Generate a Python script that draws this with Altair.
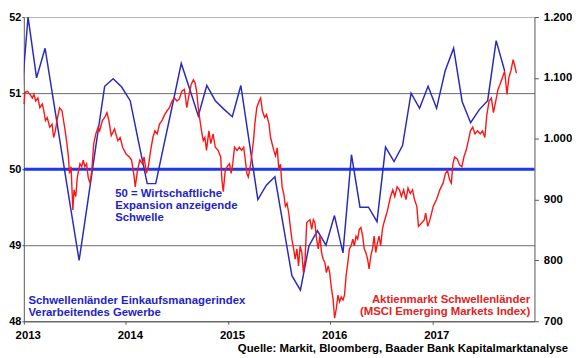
import altair as alt
import pandas as pd

FONT = "Liberation Sans"
BLUE_LINE = "#2a2ac0"
BLUE_RULE = "#2238ee"
BLUE_TEXT = "#2323c4"
RED_LINE = "#ff1414"
RED_TEXT = "#e32222"

# EM manufacturing PMI, monthly (first point Dec 2012, plotted mid-month)
pmi_first_month = "2012-12"
pmi_values = [
    50.65,
    52.00, 51.20, 51.59, 50.89, 50.19, 49.49, 48.80, 49.56, 50.33, 51.09, 51.19, 51.08,
    50.90, 50.35, 49.81, 49.81, 50.34, 50.86, 51.39, 51.05, 50.70, 51.10, 50.90, 50.79,
    50.69, 51.10, 50.35, 49.60, 49.79, 49.90, 49.25, 48.60, 48.41, 48.99, 49.19, 49.00,
    49.39, 48.90, 50.19, 49.50, 49.50, 49.31, 50.29, 50.10, 50.31, 51.00, 50.80, 51.09,
    50.80, 51.29, 51.59, 50.89, 50.61, 50.78, 50.90, 51.69, 51.29,
]

# MSCI Emerging Markets index: time in years since 1 Jan 2013, and level
msci_years_since_2013 = [
    0.003, 0.010, 0.036, 0.061, 0.084, 0.099, 0.116, 0.138, 0.157, 0.181,
    0.196, 0.212, 0.229, 0.254, 0.277, 0.292, 0.309, 0.325, 0.350, 0.374,
    0.389, 0.405, 0.422, 0.437, 0.447, 0.463, 0.480, 0.492, 0.509, 0.524,
    0.550, 0.567, 0.582, 0.598, 0.615, 0.630, 0.647, 0.663, 0.685, 0.705,
    0.727, 0.743, 0.769, 0.792, 0.814, 0.833, 0.856, 0.888, 0.920, 0.943,
    0.968, 1.001, 1.033, 1.055, 1.081, 1.091, 1.113, 1.136, 1.161, 1.178,
    1.200, 1.219, 1.242, 1.264, 1.284, 1.306, 1.329, 1.354, 1.380, 1.403,
    1.426, 1.451, 1.477, 1.499, 1.522, 1.547, 1.573, 1.596, 1.612, 1.638,
    1.660, 1.677, 1.692, 1.708, 1.725, 1.740, 1.757, 1.773, 1.789, 1.812,
    1.831, 1.853, 1.875, 1.902, 1.928, 1.940, 1.953, 1.972, 1.991, 2.014,
    2.030, 2.046, 2.063, 2.088, 2.111, 2.133, 2.153, 2.165, 2.184, 2.198,
    2.217, 2.230, 2.249, 2.262, 2.281, 2.304, 2.319, 2.336, 2.358, 2.377,
    2.401, 2.416, 2.449, 2.464, 2.481, 2.497, 2.513, 2.529, 2.545, 2.561,
    2.577, 2.594, 2.609, 2.625, 2.642, 2.657, 2.674, 2.690, 2.706, 2.722,
    2.738, 2.754, 2.770, 2.787, 2.802, 2.819, 2.835, 2.850, 2.867, 2.883,
    2.899, 2.915, 2.931, 2.947, 2.963, 2.980, 2.995, 3.012, 3.028, 3.043,
    3.060, 3.076, 3.092, 3.108, 3.125, 3.140, 3.156, 3.173, 3.188, 3.205,
    3.221, 3.236, 3.253, 3.269, 3.285, 3.301, 3.318, 3.333, 3.349, 3.366,
    3.381, 3.398, 3.414, 3.430, 3.446, 3.462, 3.478, 3.494, 3.511, 3.526,
    3.559, 3.591, 3.613, 3.632, 3.655, 3.678, 3.697, 3.719, 3.742, 3.762,
    3.784, 3.806, 3.825, 3.848, 3.864, 3.897, 3.922, 3.935, 3.955, 3.977,
    4.009, 4.041, 4.073, 4.105, 4.128, 4.148, 4.170, 4.186, 4.202, 4.218,
    4.244, 4.266, 4.289, 4.309, 4.331, 4.353, 4.373, 4.395, 4.418, 4.443,
    4.469, 4.491, 4.514, 4.534, 4.556, 4.578, 4.598, 4.621, 4.643, 4.662,
    4.685, 4.708, 4.731, 4.749, 4.771, 4.791, 4.804, 4.823,
]
msci_values = [
    1057, 1076, 1078, 1073, 1067, 1073, 1062, 1067, 1051, 1057,
    1046, 1030, 1035, 1019, 1024, 1002, 1013, 1030, 1051, 1046,
    1030, 1013, 992, 970, 943, 954, 883, 916, 905, 937,
    959, 954, 965, 954, 959, 937, 927, 943, 992, 1008,
    1019, 1013, 1030, 1035, 1043, 1030, 1005, 1016, 997, 1002,
    986, 975, 970, 965, 937, 921, 948, 965, 959, 970,
    943, 954, 981, 1002, 1013, 1008, 1024, 1030, 1040, 1046,
    1051, 1062, 1067, 1062, 1065, 1078, 1081, 1051, 1067, 1089,
    1097, 1092, 1078, 1051, 1030, 1013, 997, 1002, 981, 1013,
    992, 1008, 986, 981, 970, 932, 913, 948, 954, 959,
    943, 959, 986, 981, 986, 981, 986, 970, 943, 937,
    954, 970, 997, 1024, 1051, 1062, 1067, 1046, 1035, 1040,
    1024, 1002, 980, 972, 985, 950, 958, 921, 910, 889,
    894, 878, 856, 835, 819, 802, 819, 791, 824, 813,
    780, 802, 862, 865, 867, 851, 867, 862, 835, 819,
    840, 813, 802, 797, 780, 791, 780, 754, 737, 705,
    721, 743, 732, 740, 735, 743, 775, 797, 819, 824,
    835, 824, 840, 835, 851, 854, 840, 819, 813, 802,
    786, 808, 819, 840, 813, 829, 840, 824, 851, 862,
    881, 905, 916, 905, 921, 916, 905, 916, 900, 919,
    910, 916, 900, 889, 856, 862, 867, 878, 856, 867,
    889, 900, 916, 927, 943, 948, 932, 927, 959, 970,
    967, 957, 954, 970, 981, 997, 1013, 1019, 1008, 1013,
    1008, 1013, 1002, 1040, 1062, 1067, 1043, 1062, 1081, 1089,
    1100, 1111, 1073, 1100, 1113, 1130, 1122, 1108,
]

left_ticks = [48, 49, 50, 51, 52]
right_ticks = [700, 800, 900, 1000, 1100, 1200]
year_ticks = [2013, 2014, 2015, 2016, 2017]
threshold = [50]

months = pd.period_range(pmi_first_month, periods=len(pmi_values), freq="M")
pmi = pd.DataFrame({"t": months.year + (months.month - 0.5) / 12.0, "v": pmi_values})
msci = pd.DataFrame({"t": [2013 + o for o in msci_years_since_2013], "v": msci_values})

xs = alt.Scale(domain=[2013, 2018], nice=False, zero=False)
yl = alt.Scale(domain=[48, 52], nice=False, zero=False)
yr = alt.Scale(domain=[700, 1200], nice=False, zero=False)

lab = dict(labelFont=FONT, labelFontWeight="bold", labelColor="#000000")

x_axis = alt.Axis(values=year_ticks, format="d", title=None, grid=False,
                  domainColor="#555555", tickColor="#555555", tickSize=3,
                  labelPadding=5, labelOffset=4, labelFlush=False, labelFontSize=11.5, **lab)
left_axis = alt.Axis(values=left_ticks, title=None, grid=True,
                     gridColor={"condition": {"test": "datum.value == 52", "value": "#b4b4b4"},
                                "value": "#6a6a6a"},
                     domainColor="#555555", tickColor="#555555", tickSize=2,
                     labelPadding=1, labelFontSize=11, **lab)
right_axis = alt.Axis(values=right_ticks, orient="right", title=None, grid=False,
                      domainColor="#555555", tickColor="#555555", tickSize=4,
                      labelPadding=5, labelFontSize=11.5,
                      labelExpr="replace(format(datum.value, ','), ',', '.')", **lab)

blue = alt.Chart(pmi).mark_line(color=BLUE_LINE, strokeWidth=1.5, clip=True).encode(
    x=alt.X("t:Q", scale=xs, axis=x_axis),
    y=alt.Y("v:Q", scale=yl, axis=left_axis),
)
rule50 = alt.Chart(pd.DataFrame({"v": threshold})).mark_rule(
    color=BLUE_RULE, strokeWidth=3).encode(y=alt.Y("v:Q", scale=yl, axis=left_axis))


def note(text, tx, ty, color, align, size=11.5, lh=12.5):
    return alt.Chart(pd.DataFrame({"a": [0]})).mark_text(
        text=text, lineBreak="\n", lineHeight=lh, align=align, baseline="alphabetic",
        font=FONT, fontSize=size, fontWeight="bold", color=color,
    ).encode(x=alt.X(datum=tx, scale=xs, axis=x_axis), y=alt.Y(datum=ty, scale=yl, axis=left_axis))


notes = [
    note("50 = Wirtschaftliche\nExpansion anzeigende\nSchwelle", 2013.895, 49.64, BLUE_TEXT, "left"),
    note("Schwellenländer Einkaufsmanagerindex\nVerarbeitendes Gewerbe", 2013.045, 48.225, BLUE_TEXT, "left", lh=11.8),
    note("Aktienmarkt Schwellenländer\n(MSCI Emerging Markets Index)", 2017.958, 48.234, RED_TEXT, "right", lh=11.8),
    note("Quelle: Markit, Bloomberg, Baader Bank Kapitalmarktanalyse", 2018.33, 47.60, "#000000", "right"),
]

left = alt.layer(rule50, blue, *notes)

red = alt.Chart(msci).mark_line(color=RED_LINE, strokeWidth=1.4).encode(
    x=alt.X("t:Q", scale=xs, axis=x_axis),
    y=alt.Y("v:Q", scale=yr, axis=right_axis),
)

chart = alt.layer(left, red).resolve_scale(y="independent").properties(
    width=517, height=308,
    autosize=alt.AutoSizeParams(type="none"),
    padding={"left": 16, "top": 7, "right": 38, "bottom": 35},
).configure_view(stroke=None)

chart.save("out.html", embed_options={"renderer": "svg", "actions": False})
